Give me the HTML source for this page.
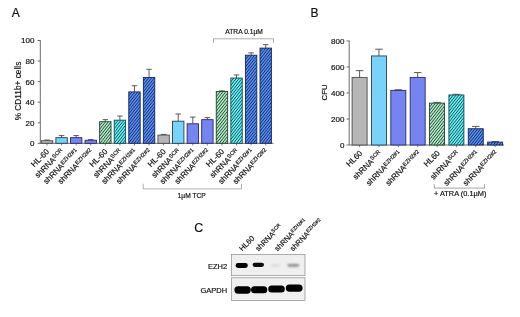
<!DOCTYPE html>
<html lang="en"><head><meta charset="utf-8"><title>Figure</title>
<style>html,body{margin:0;padding:0;background:#fff}svg{display:block}text{font-family:"Liberation Sans", sans-serif;stroke:#111;stroke-width:0.18px}</style>
</head><body>
<svg width="520" height="317" viewBox="0 0 520 317">
<defs>
<filter id="bl" x="-20%" y="-50%" width="140%" height="200%"><feGaussianBlur stdDeviation="0.9"/></filter>
<filter id="bl2" x="-20%" y="-50%" width="140%" height="200%"><feGaussianBlur stdDeviation="0.7"/></filter>
</defs>
<rect width="520" height="317" fill="#fff"/>
<text x="11.8" y="16.8" font-size="12" fill="#111" stroke="none">A</text>
<text x="310.6" y="17" font-size="12" fill="#111" stroke="none">B</text>
<text x="194.2" y="231.8" font-size="12.4" fill="#111" stroke="none">C</text>
<path d="M40.3 40.2V143.3H273.5" stroke="#505050" stroke-width="0.85" fill="none"/>
<path d="M37.699999999999996 143.30H40.3" stroke="#444" stroke-width="0.8"/>
<text x="34.4" y="146.20" font-size="8" text-anchor="end" fill="#111">0</text>
<path d="M37.699999999999996 122.74H40.3" stroke="#444" stroke-width="0.8"/>
<text x="34.4" y="125.64" font-size="8" text-anchor="end" fill="#111">20</text>
<path d="M37.699999999999996 102.18H40.3" stroke="#444" stroke-width="0.8"/>
<text x="34.4" y="105.08" font-size="8" text-anchor="end" fill="#111">40</text>
<path d="M37.699999999999996 81.62H40.3" stroke="#444" stroke-width="0.8"/>
<text x="34.4" y="84.52" font-size="8" text-anchor="end" fill="#111">60</text>
<path d="M37.699999999999996 61.06H40.3" stroke="#444" stroke-width="0.8"/>
<text x="34.4" y="63.96" font-size="8" text-anchor="end" fill="#111">80</text>
<path d="M37.699999999999996 40.50H40.3" stroke="#444" stroke-width="0.8"/>
<text x="34.4" y="43.40" font-size="8" text-anchor="end" fill="#111">100</text>
<text transform="translate(20.8,91.00) rotate(-90)" text-anchor="middle" font-size="8.3" fill="#111">% CD11b+ cells</text>
<path d="M47.00 140.73V140.01M44.25 140.01H49.75" stroke="#4c4848" stroke-width="0.9" fill="none"/>
<rect x="41.30" y="140.73" width="11.40" height="2.57" fill="#b6b6b6" stroke="#4a4a4a" stroke-width="0.9"/>
<path d="M47.00 143.3V145.5" stroke="#444" stroke-width="0.7"/>
<text transform="translate(49.75,152.10) rotate(-45)" text-anchor="end" font-size="8" fill="#111">HL-60</text>
<path d="M61.58 137.65V135.59M58.83 135.59H64.33" stroke="#4c4848" stroke-width="0.9" fill="none"/>
<rect x="55.88" y="137.65" width="11.40" height="5.65" fill="#78d2fa" stroke="#24424f" stroke-width="0.9"/>
<path d="M61.58 143.3V145.5" stroke="#444" stroke-width="0.7"/>
<text transform="translate(64.33,152.10) rotate(-45)" text-anchor="end" font-size="8" fill="#111">shRNA<tspan font-size="5.6" dy="-2.4">SCR</tspan></text>
<path d="M76.16 137.65V135.59M73.41 135.59H78.91" stroke="#4c4848" stroke-width="0.9" fill="none"/>
<rect x="70.46" y="137.65" width="11.40" height="5.65" fill="#7684f2" stroke="#262c66" stroke-width="0.9"/>
<path d="M76.16 143.3V145.5" stroke="#444" stroke-width="0.7"/>
<text transform="translate(78.91,152.10) rotate(-45)" text-anchor="end" font-size="8" fill="#111">shRNA<tspan font-size="5.6" dy="-2.4">EZH2#1</tspan></text>
<path d="M90.74 140.22V139.60M87.99 139.60H93.49" stroke="#4c4848" stroke-width="0.9" fill="none"/>
<rect x="85.04" y="140.22" width="11.40" height="3.08" fill="#7684f2" stroke="#262c66" stroke-width="0.9"/>
<path d="M90.74 143.3V145.5" stroke="#444" stroke-width="0.7"/>
<text transform="translate(93.49,152.10) rotate(-45)" text-anchor="end" font-size="8" fill="#111">shRNA<tspan font-size="5.6" dy="-2.4">EZH2#2</tspan></text>
<path d="M105.32 121.71V119.66M102.57 119.66H108.07" stroke="#4c4848" stroke-width="0.9" fill="none"/>
<clipPath id="c1"><rect x="99.62" y="121.71" width="11.40" height="21.59"/></clipPath>
<rect x="99.62" y="121.71" width="11.40" height="21.59" fill="#aeeac4"/>
<path clip-path="url(#c1)" d="M99.12 115.55L111.52 99.84M99.12 119.15L111.52 103.44M99.12 122.75L111.52 107.04M99.12 126.35L111.52 110.64M99.12 129.95L111.52 114.24M99.12 133.55L111.52 117.84M99.12 137.15L111.52 121.44M99.12 140.75L111.52 125.04M99.12 144.35L111.52 128.64M99.12 147.95L111.52 132.24M99.12 151.55L111.52 135.84M99.12 155.15L111.52 139.44M99.12 158.75L111.52 143.04M99.12 162.35L111.52 146.64" stroke="#1e3c30" stroke-width="0.92" fill="none"/>
<rect x="99.62" y="121.71" width="11.40" height="21.59" fill="none" stroke="#25402f" stroke-width="0.9"/>
<path d="M105.32 143.3V145.5" stroke="#444" stroke-width="0.7"/>
<text transform="translate(108.07,152.10) rotate(-45)" text-anchor="end" font-size="8" fill="#111">HL-60</text>
<path d="M119.90 120.17V116.06M117.15 116.06H122.65" stroke="#4c4848" stroke-width="0.9" fill="none"/>
<clipPath id="c2"><rect x="114.20" y="120.17" width="11.40" height="23.13"/></clipPath>
<rect x="114.20" y="120.17" width="11.40" height="23.13" fill="#66f0f2"/>
<path clip-path="url(#c2)" d="M113.70 115.07L126.10 99.35M113.70 118.67L126.10 102.95M113.70 122.27L126.10 106.55M113.70 125.87L126.10 110.15M113.70 129.47L126.10 113.75M113.70 133.07L126.10 117.35M113.70 136.67L126.10 120.95M113.70 140.27L126.10 124.55M113.70 143.87L126.10 128.15M113.70 147.47L126.10 131.75M113.70 151.07L126.10 135.35M113.70 154.67L126.10 138.95M113.70 158.27L126.10 142.55M113.70 161.87L126.10 146.15M113.70 165.47L126.10 149.75" stroke="#0f4652" stroke-width="0.92" fill="none"/>
<rect x="114.20" y="120.17" width="11.40" height="23.13" fill="none" stroke="#174a55" stroke-width="0.9"/>
<path d="M119.90 143.3V145.5" stroke="#444" stroke-width="0.7"/>
<text transform="translate(122.65,152.10) rotate(-45)" text-anchor="end" font-size="8" fill="#111">shRNA<tspan font-size="5.6" dy="-2.4">SCR</tspan></text>
<path d="M134.48 91.90V85.73M131.73 85.73H137.23" stroke="#4c4848" stroke-width="0.9" fill="none"/>
<clipPath id="c3"><rect x="128.78" y="91.90" width="11.40" height="51.40"/></clipPath>
<rect x="128.78" y="91.90" width="11.40" height="51.40" fill="#5890f0"/>
<path clip-path="url(#c3)" d="M128.28 85.79L140.68 70.07M128.28 89.39L140.68 73.67M128.28 92.99L140.68 77.27M128.28 96.59L140.68 80.87M128.28 100.19L140.68 84.47M128.28 103.79L140.68 88.07M128.28 107.39L140.68 91.67M128.28 110.99L140.68 95.27M128.28 114.59L140.68 98.87M128.28 118.19L140.68 102.47M128.28 121.79L140.68 106.07M128.28 125.39L140.68 109.67M128.28 128.99L140.68 113.27M128.28 132.59L140.68 116.87M128.28 136.19L140.68 120.47M128.28 139.79L140.68 124.07M128.28 143.39L140.68 127.67M128.28 146.99L140.68 131.27M128.28 150.59L140.68 134.87M128.28 154.19L140.68 138.47M128.28 157.79L140.68 142.07M128.28 161.39L140.68 145.67M128.28 164.99L140.68 149.27" stroke="#112260" stroke-width="0.92" fill="none"/>
<rect x="128.78" y="91.90" width="11.40" height="51.40" fill="none" stroke="#16275e" stroke-width="0.9"/>
<path d="M134.48 143.3V145.5" stroke="#444" stroke-width="0.7"/>
<text transform="translate(137.23,152.10) rotate(-45)" text-anchor="end" font-size="8" fill="#111">shRNA<tspan font-size="5.6" dy="-2.4">EZH2#1</tspan></text>
<path d="M149.06 77.51V69.28M146.31 69.28H151.81" stroke="#4c4848" stroke-width="0.9" fill="none"/>
<clipPath id="c4"><rect x="143.36" y="77.51" width="11.40" height="65.79"/></clipPath>
<rect x="143.36" y="77.51" width="11.40" height="65.79" fill="#5890f0"/>
<path clip-path="url(#c4)" d="M142.86 74.51L155.26 58.79M142.86 78.11L155.26 62.39M142.86 81.71L155.26 65.99M142.86 85.31L155.26 69.59M142.86 88.91L155.26 73.19M142.86 92.51L155.26 76.79M142.86 96.11L155.26 80.39M142.86 99.71L155.26 83.99M142.86 103.31L155.26 87.59M142.86 106.91L155.26 91.19M142.86 110.51L155.26 94.79M142.86 114.11L155.26 98.39M142.86 117.71L155.26 101.99M142.86 121.31L155.26 105.59M142.86 124.91L155.26 109.19M142.86 128.51L155.26 112.79M142.86 132.11L155.26 116.39M142.86 135.71L155.26 119.99M142.86 139.31L155.26 123.59M142.86 142.91L155.26 127.19M142.86 146.51L155.26 130.79M142.86 150.11L155.26 134.39M142.86 153.71L155.26 137.99M142.86 157.31L155.26 141.59M142.86 160.91L155.26 145.19M142.86 164.51L155.26 148.79" stroke="#112260" stroke-width="0.92" fill="none"/>
<rect x="143.36" y="77.51" width="11.40" height="65.79" fill="none" stroke="#16275e" stroke-width="0.9"/>
<path d="M149.06 143.3V145.5" stroke="#444" stroke-width="0.7"/>
<text transform="translate(151.81,152.10) rotate(-45)" text-anchor="end" font-size="8" fill="#111">shRNA<tspan font-size="5.6" dy="-2.4">EZH2#2</tspan></text>
<path d="M163.64 135.08V134.36M160.89 134.36H166.39" stroke="#4c4848" stroke-width="0.9" fill="none"/>
<rect x="157.94" y="135.08" width="11.40" height="8.22" fill="#b6b6b6" stroke="#4a4a4a" stroke-width="0.9"/>
<path d="M163.64 143.3V145.5" stroke="#444" stroke-width="0.7"/>
<text transform="translate(166.39,152.10) rotate(-45)" text-anchor="end" font-size="8" fill="#111">HL-60</text>
<path d="M178.22 121.20V114.00M175.47 114.00H180.97" stroke="#4c4848" stroke-width="0.9" fill="none"/>
<rect x="172.52" y="121.20" width="11.40" height="22.10" fill="#78d2fa" stroke="#24424f" stroke-width="0.9"/>
<path d="M178.22 143.3V145.5" stroke="#444" stroke-width="0.7"/>
<text transform="translate(180.97,152.10) rotate(-45)" text-anchor="end" font-size="8" fill="#111">shRNA<tspan font-size="5.6" dy="-2.4">SCR</tspan></text>
<path d="M192.80 123.77V117.09M190.05 117.09H195.55" stroke="#4c4848" stroke-width="0.9" fill="none"/>
<rect x="187.10" y="123.77" width="11.40" height="19.53" fill="#7684f2" stroke="#262c66" stroke-width="0.9"/>
<path d="M192.80 143.3V145.5" stroke="#444" stroke-width="0.7"/>
<text transform="translate(195.55,152.10) rotate(-45)" text-anchor="end" font-size="8" fill="#111">shRNA<tspan font-size="5.6" dy="-2.4">EZH2#1</tspan></text>
<path d="M207.38 119.66V117.60M204.63 117.60H210.13" stroke="#4c4848" stroke-width="0.9" fill="none"/>
<rect x="201.68" y="119.66" width="11.40" height="23.64" fill="#7684f2" stroke="#262c66" stroke-width="0.9"/>
<path d="M207.38 143.3V145.5" stroke="#444" stroke-width="0.7"/>
<text transform="translate(210.13,152.10) rotate(-45)" text-anchor="end" font-size="8" fill="#111">shRNA<tspan font-size="5.6" dy="-2.4">EZH2#2</tspan></text>
<path d="M221.96 91.39V90.87M219.21 90.87H224.71" stroke="#4c4848" stroke-width="0.9" fill="none"/>
<clipPath id="c5"><rect x="216.26" y="91.39" width="11.40" height="51.91"/></clipPath>
<rect x="216.26" y="91.39" width="11.40" height="51.91" fill="#aeeac4"/>
<path clip-path="url(#c5)" d="M215.76 86.50L228.16 70.78M215.76 90.10L228.16 74.38M215.76 93.70L228.16 77.98M215.76 97.30L228.16 81.58M215.76 100.90L228.16 85.18M215.76 104.50L228.16 88.78M215.76 108.10L228.16 92.38M215.76 111.70L228.16 95.98M215.76 115.30L228.16 99.58M215.76 118.90L228.16 103.18M215.76 122.50L228.16 106.78M215.76 126.10L228.16 110.38M215.76 129.70L228.16 113.98M215.76 133.30L228.16 117.58M215.76 136.90L228.16 121.18M215.76 140.50L228.16 124.78M215.76 144.10L228.16 128.38M215.76 147.70L228.16 131.98M215.76 151.30L228.16 135.58M215.76 154.90L228.16 139.18M215.76 158.50L228.16 142.78M215.76 162.10L228.16 146.38" stroke="#1e3c30" stroke-width="0.92" fill="none"/>
<rect x="216.26" y="91.39" width="11.40" height="51.91" fill="none" stroke="#25402f" stroke-width="0.9"/>
<path d="M221.96 143.3V145.5" stroke="#444" stroke-width="0.7"/>
<text transform="translate(224.71,152.10) rotate(-45)" text-anchor="end" font-size="8" fill="#111">HL-60</text>
<path d="M236.54 78.02V74.94M233.79 74.94H239.29" stroke="#4c4848" stroke-width="0.9" fill="none"/>
<clipPath id="c6"><rect x="230.84" y="78.02" width="11.40" height="65.28"/></clipPath>
<rect x="230.84" y="78.02" width="11.40" height="65.28" fill="#66f0f2"/>
<path clip-path="url(#c6)" d="M230.34 71.62L242.74 55.90M230.34 75.22L242.74 59.50M230.34 78.82L242.74 63.10M230.34 82.42L242.74 66.70M230.34 86.02L242.74 70.30M230.34 89.62L242.74 73.90M230.34 93.22L242.74 77.50M230.34 96.82L242.74 81.10M230.34 100.42L242.74 84.70M230.34 104.02L242.74 88.30M230.34 107.62L242.74 91.90M230.34 111.22L242.74 95.50M230.34 114.82L242.74 99.10M230.34 118.42L242.74 102.70M230.34 122.02L242.74 106.30M230.34 125.62L242.74 109.90M230.34 129.22L242.74 113.50M230.34 132.82L242.74 117.10M230.34 136.42L242.74 120.70M230.34 140.02L242.74 124.30M230.34 143.62L242.74 127.90M230.34 147.22L242.74 131.50M230.34 150.82L242.74 135.10M230.34 154.42L242.74 138.70M230.34 158.02L242.74 142.30M230.34 161.62L242.74 145.90M230.34 165.22L242.74 149.50" stroke="#0f4652" stroke-width="0.92" fill="none"/>
<rect x="230.84" y="78.02" width="11.40" height="65.28" fill="none" stroke="#174a55" stroke-width="0.9"/>
<path d="M236.54 143.3V145.5" stroke="#444" stroke-width="0.7"/>
<text transform="translate(239.29,152.10) rotate(-45)" text-anchor="end" font-size="8" fill="#111">shRNA<tspan font-size="5.6" dy="-2.4">SCR</tspan></text>
<path d="M251.12 55.20V52.84M248.37 52.84H253.87" stroke="#4c4848" stroke-width="0.9" fill="none"/>
<clipPath id="c7"><rect x="245.42" y="55.20" width="11.40" height="88.10"/></clipPath>
<rect x="245.42" y="55.20" width="11.40" height="88.10" fill="#5890f0"/>
<path clip-path="url(#c7)" d="M244.92 49.54L257.32 33.82M244.92 53.14L257.32 37.42M244.92 56.74L257.32 41.02M244.92 60.34L257.32 44.62M244.92 63.94L257.32 48.22M244.92 67.54L257.32 51.82M244.92 71.14L257.32 55.42M244.92 74.74L257.32 59.02M244.92 78.34L257.32 62.62M244.92 81.94L257.32 66.22M244.92 85.54L257.32 69.82M244.92 89.14L257.32 73.42M244.92 92.74L257.32 77.02M244.92 96.34L257.32 80.62M244.92 99.94L257.32 84.22M244.92 103.54L257.32 87.82M244.92 107.14L257.32 91.42M244.92 110.74L257.32 95.02M244.92 114.34L257.32 98.62M244.92 117.94L257.32 102.22M244.92 121.54L257.32 105.82M244.92 125.14L257.32 109.42M244.92 128.74L257.32 113.02M244.92 132.34L257.32 116.62M244.92 135.94L257.32 120.22M244.92 139.54L257.32 123.82M244.92 143.14L257.32 127.42M244.92 146.74L257.32 131.02M244.92 150.34L257.32 134.62M244.92 153.94L257.32 138.22M244.92 157.54L257.32 141.82M244.92 161.14L257.32 145.42M244.92 164.74L257.32 149.02" stroke="#112260" stroke-width="0.92" fill="none"/>
<rect x="245.42" y="55.20" width="11.40" height="88.10" fill="none" stroke="#16275e" stroke-width="0.9"/>
<path d="M251.12 143.3V145.5" stroke="#444" stroke-width="0.7"/>
<text transform="translate(253.87,152.10) rotate(-45)" text-anchor="end" font-size="8" fill="#111">shRNA<tspan font-size="5.6" dy="-2.4">EZH2#1</tspan></text>
<path d="M265.70 48.11V44.61M262.95 44.61H268.45" stroke="#4c4848" stroke-width="0.9" fill="none"/>
<clipPath id="c8"><rect x="260.00" y="48.11" width="11.40" height="95.19"/></clipPath>
<rect x="260.00" y="48.11" width="11.40" height="95.19" fill="#5890f0"/>
<path clip-path="url(#c8)" d="M259.50 41.86L271.90 26.14M259.50 45.46L271.90 29.74M259.50 49.06L271.90 33.34M259.50 52.66L271.90 36.94M259.50 56.26L271.90 40.54M259.50 59.86L271.90 44.14M259.50 63.46L271.90 47.74M259.50 67.06L271.90 51.34M259.50 70.66L271.90 54.94M259.50 74.26L271.90 58.54M259.50 77.86L271.90 62.14M259.50 81.46L271.90 65.74M259.50 85.06L271.90 69.34M259.50 88.66L271.90 72.94M259.50 92.26L271.90 76.54M259.50 95.86L271.90 80.14M259.50 99.46L271.90 83.74M259.50 103.06L271.90 87.34M259.50 106.66L271.90 90.94M259.50 110.26L271.90 94.54M259.50 113.86L271.90 98.14M259.50 117.46L271.90 101.74M259.50 121.06L271.90 105.34M259.50 124.66L271.90 108.94M259.50 128.26L271.90 112.54M259.50 131.86L271.90 116.14M259.50 135.46L271.90 119.74M259.50 139.06L271.90 123.34M259.50 142.66L271.90 126.94M259.50 146.26L271.90 130.54M259.50 149.86L271.90 134.14M259.50 153.46L271.90 137.74M259.50 157.06L271.90 141.34M259.50 160.66L271.90 144.94M259.50 164.26L271.90 148.54" stroke="#112260" stroke-width="0.92" fill="none"/>
<rect x="260.00" y="48.11" width="11.40" height="95.19" fill="none" stroke="#16275e" stroke-width="0.9"/>
<path d="M265.70 143.3V145.5" stroke="#444" stroke-width="0.7"/>
<text transform="translate(268.45,152.10) rotate(-45)" text-anchor="end" font-size="8" fill="#111">shRNA<tspan font-size="5.6" dy="-2.4">EZH2#2</tspan></text>
<path d="M213.5 43.1V38.8H273.5V43.1" stroke="#777" stroke-width="0.6" fill="none"/>
<text x="244.1" y="33.85" font-size="6.7" text-anchor="middle" fill="#111">ATRA 0.1µM</text>
<path d="M143.2 183.8V188.9H241.5V183.8" stroke="#777" stroke-width="0.6" fill="none"/>
<text x="191.7" y="197.7" font-size="6.7" text-anchor="middle" fill="#111">1µM TCP</text>
<path d="M349.2 40.7V145H504" stroke="#505050" stroke-width="0.85" fill="none"/>
<path d="M346.59999999999997 145.00H349.2" stroke="#444" stroke-width="0.8"/>
<text x="344.4" y="147.90" font-size="8" text-anchor="end" fill="#111">0</text>
<path d="M346.59999999999997 119.00H349.2" stroke="#444" stroke-width="0.8"/>
<text x="344.4" y="121.90" font-size="8" text-anchor="end" fill="#111">200</text>
<path d="M346.59999999999997 93.00H349.2" stroke="#444" stroke-width="0.8"/>
<text x="344.4" y="95.90" font-size="8" text-anchor="end" fill="#111">400</text>
<path d="M346.59999999999997 67.00H349.2" stroke="#444" stroke-width="0.8"/>
<text x="344.4" y="69.90" font-size="8" text-anchor="end" fill="#111">600</text>
<path d="M346.59999999999997 41.00H349.2" stroke="#444" stroke-width="0.8"/>
<text x="344.4" y="43.90" font-size="8" text-anchor="end" fill="#111">800</text>
<text transform="translate(327.0,92.40) rotate(-90)" text-anchor="middle" font-size="7.8" fill="#111">CFU</text>
<path d="M359.60 77.40V70.64M355.85 70.64H363.35" stroke="#4c4848" stroke-width="0.9" fill="none"/>
<rect x="352.10" y="77.40" width="15.00" height="67.60" fill="#b6b6b6" stroke="#4a4a4a" stroke-width="0.9"/>
<path d="M359.60 145V147.2" stroke="#444" stroke-width="0.7"/>
<text transform="translate(363.00,153.80) rotate(-45)" text-anchor="end" font-size="8" fill="#111">HL60</text>
<path d="M378.96 55.95V49.19M375.21 49.19H382.71" stroke="#4c4848" stroke-width="0.9" fill="none"/>
<rect x="371.46" y="55.95" width="15.00" height="89.05" fill="#78d2fa" stroke="#24424f" stroke-width="0.9"/>
<path d="M378.96 145V147.2" stroke="#444" stroke-width="0.7"/>
<text transform="translate(382.36,153.80) rotate(-45)" text-anchor="end" font-size="8" fill="#111">shRNA<tspan font-size="5.6" dy="-2.4">SCR</tspan></text>
<path d="M398.32 90.40V89.75M394.57 89.75H402.07" stroke="#4c4848" stroke-width="0.9" fill="none"/>
<rect x="390.82" y="90.40" width="15.00" height="54.60" fill="#7684f2" stroke="#262c66" stroke-width="0.9"/>
<path d="M398.32 145V147.2" stroke="#444" stroke-width="0.7"/>
<text transform="translate(401.72,153.80) rotate(-45)" text-anchor="end" font-size="8" fill="#111">shRNA<tspan font-size="5.6" dy="-2.4">EZH2#1</tspan></text>
<path d="M417.68 77.40V72.59M413.93 72.59H421.43" stroke="#4c4848" stroke-width="0.9" fill="none"/>
<rect x="410.18" y="77.40" width="15.00" height="67.60" fill="#7684f2" stroke="#262c66" stroke-width="0.9"/>
<path d="M417.68 145V147.2" stroke="#444" stroke-width="0.7"/>
<text transform="translate(421.08,153.80) rotate(-45)" text-anchor="end" font-size="8" fill="#111">shRNA<tspan font-size="5.6" dy="-2.4">EZH2#2</tspan></text>
<path d="M437.04 103.14V102.36M433.29 102.36H440.79" stroke="#4c4848" stroke-width="0.9" fill="none"/>
<clipPath id="c9"><rect x="429.54" y="103.14" width="15.00" height="41.86"/></clipPath>
<rect x="429.54" y="103.14" width="15.00" height="41.86" fill="#aeeac4"/>
<path clip-path="url(#c9)" d="M429.04 96.95L445.04 76.66M429.04 100.55L445.04 80.26M429.04 104.15L445.04 83.86M429.04 107.75L445.04 87.46M429.04 111.35L445.04 91.06M429.04 114.95L445.04 94.66M429.04 118.55L445.04 98.26M429.04 122.15L445.04 101.86M429.04 125.75L445.04 105.46M429.04 129.35L445.04 109.06M429.04 132.95L445.04 112.66M429.04 136.55L445.04 116.26M429.04 140.15L445.04 119.86M429.04 143.75L445.04 123.46M429.04 147.35L445.04 127.06M429.04 150.95L445.04 130.66M429.04 154.55L445.04 134.26M429.04 158.15L445.04 137.86M429.04 161.75L445.04 141.46M429.04 165.35L445.04 145.06M429.04 168.95L445.04 148.66" stroke="#1e3c30" stroke-width="0.92" fill="none"/>
<rect x="429.54" y="103.14" width="15.00" height="41.86" fill="none" stroke="#25402f" stroke-width="0.9"/>
<path d="M437.04 145V147.2" stroke="#444" stroke-width="0.7"/>
<text transform="translate(440.44,153.80) rotate(-45)" text-anchor="end" font-size="8" fill="#111">HL60</text>
<path d="M456.40 94.95V94.30M452.65 94.30H460.15" stroke="#4c4848" stroke-width="0.9" fill="none"/>
<clipPath id="c10"><rect x="448.90" y="94.95" width="15.00" height="50.05"/></clipPath>
<rect x="448.90" y="94.95" width="15.00" height="50.05" fill="#66f0f2"/>
<path clip-path="url(#c10)" d="M448.40 90.41L464.40 70.12M448.40 94.01L464.40 73.72M448.40 97.61L464.40 77.32M448.40 101.21L464.40 80.92M448.40 104.81L464.40 84.52M448.40 108.41L464.40 88.12M448.40 112.01L464.40 91.72M448.40 115.61L464.40 95.32M448.40 119.21L464.40 98.92M448.40 122.81L464.40 102.52M448.40 126.41L464.40 106.12M448.40 130.01L464.40 109.72M448.40 133.61L464.40 113.32M448.40 137.21L464.40 116.92M448.40 140.81L464.40 120.52M448.40 144.41L464.40 124.12M448.40 148.01L464.40 127.72M448.40 151.61L464.40 131.32M448.40 155.21L464.40 134.92M448.40 158.81L464.40 138.52M448.40 162.41L464.40 142.12M448.40 166.01L464.40 145.72M448.40 169.61L464.40 149.32" stroke="#0f4652" stroke-width="0.92" fill="none"/>
<rect x="448.90" y="94.95" width="15.00" height="50.05" fill="none" stroke="#174a55" stroke-width="0.9"/>
<path d="M456.40 145V147.2" stroke="#444" stroke-width="0.7"/>
<text transform="translate(459.80,153.80) rotate(-45)" text-anchor="end" font-size="8" fill="#111">shRNA<tspan font-size="5.6" dy="-2.4">SCR</tspan></text>
<path d="M475.76 128.75V126.41M472.01 126.41H479.51" stroke="#4c4848" stroke-width="0.9" fill="none"/>
<clipPath id="c11"><rect x="468.26" y="128.75" width="15.00" height="16.25"/></clipPath>
<rect x="468.26" y="128.75" width="15.00" height="16.25" fill="#5890f0"/>
<path clip-path="url(#c11)" d="M467.76 123.46L483.76 103.18M467.76 127.06L483.76 106.78M467.76 130.66L483.76 110.38M467.76 134.26L483.76 113.98M467.76 137.86L483.76 117.58M467.76 141.46L483.76 121.18M467.76 145.06L483.76 124.78M467.76 148.66L483.76 128.38M467.76 152.26L483.76 131.98M467.76 155.86L483.76 135.58M467.76 159.46L483.76 139.18M467.76 163.06L483.76 142.78M467.76 166.66L483.76 146.38M467.76 170.26L483.76 149.98" stroke="#112260" stroke-width="0.92" fill="none"/>
<rect x="468.26" y="128.75" width="15.00" height="16.25" fill="none" stroke="#16275e" stroke-width="0.9"/>
<path d="M475.76 145V147.2" stroke="#444" stroke-width="0.7"/>
<text transform="translate(479.16,153.80) rotate(-45)" text-anchor="end" font-size="8" fill="#111">shRNA<tspan font-size="5.6" dy="-2.4">EZH2#1</tspan></text>
<path d="M495.12 142.14V141.49M491.37 141.49H498.87" stroke="#4c4848" stroke-width="0.9" fill="none"/>
<clipPath id="c12"><rect x="487.62" y="142.14" width="15.00" height="2.86"/></clipPath>
<rect x="487.62" y="142.14" width="15.00" height="2.86" fill="#5890f0"/>
<path clip-path="url(#c12)" d="M487.12 138.52L503.12 118.24M487.12 142.12L503.12 121.84M487.12 145.72L503.12 125.44M487.12 149.32L503.12 129.04M487.12 152.92L503.12 132.64M487.12 156.52L503.12 136.24M487.12 160.12L503.12 139.84M487.12 163.72L503.12 143.44M487.12 167.32L503.12 147.04M487.12 170.92L503.12 150.64" stroke="#112260" stroke-width="0.92" fill="none"/>
<rect x="487.62" y="142.14" width="15.00" height="2.86" fill="none" stroke="#16275e" stroke-width="0.9"/>
<path d="M495.12 145V147.2" stroke="#444" stroke-width="0.7"/>
<text transform="translate(498.52,153.80) rotate(-45)" text-anchor="end" font-size="8" fill="#111">shRNA<tspan font-size="5.6" dy="-2.4">EZH2#2</tspan></text>
<path d="M434.3 184.2V188.1H484.5V184.2" stroke="#666" stroke-width="0.6" fill="none"/>
<text x="460.2" y="195.6" font-size="7.4" text-anchor="middle" fill="#111">+ ATRA (0.1µM)</text>
<rect x="231.6" y="254.6" width="73.4" height="21.1" fill="#efefef" stroke="#8a8a8a" stroke-width="0.7"/>
<rect x="231.6" y="277.8" width="73.4" height="22.6" fill="#efefef" stroke="#8a8a8a" stroke-width="0.7"/>
<text x="227.2" y="269.2" font-size="7.5" text-anchor="end" fill="#111">EZH2</text>
<text x="227.2" y="293.4" font-size="7.5" text-anchor="end" fill="#111">GAPDH</text>
<rect x="235.60" y="263.10" width="12.20" height="4.80" rx="2.40" fill="#060606" opacity="1" filter="url(#bl2)"/>
<rect x="252.60" y="262.65" width="11.40" height="4.30" rx="2.15" fill="#0c0c0c" opacity="1" filter="url(#bl2)"/>
<rect x="271.00" y="264.40" width="9.00" height="2.20" rx="1.10" fill="#999" opacity="0.3" filter="url(#bl)"/>
<rect x="287.60" y="263.90" width="11.60" height="2.80" rx="1.40" fill="#555" opacity="0.65" filter="url(#bl)"/>
<rect x="234.40" y="286.30" width="16.40" height="7.40" rx="3.70" fill="#030303" opacity="1" filter="url(#bl2)"/>
<rect x="251.00" y="286.30" width="16.30" height="7.00" rx="3.50" fill="#030303" opacity="1" filter="url(#bl2)"/>
<rect x="268.20" y="285.50" width="16.60" height="7.00" rx="3.50" fill="#030303" opacity="1" filter="url(#bl2)"/>
<rect x="285.80" y="284.50" width="16.80" height="7.20" rx="3.60" fill="#030303" opacity="1" filter="url(#bl2)"/>
<text transform="translate(242.30,251.60) rotate(-45)" text-anchor="start" font-size="7.5" fill="#111">HL60</text>
<text transform="translate(258.40,251.60) rotate(-45)" text-anchor="start" font-size="7.5" fill="#111">shRNA<tspan font-size="5.0" dy="-2.6">SCR</tspan></text>
<text transform="translate(277.60,251.60) rotate(-45)" text-anchor="start" font-size="7.5" fill="#111">shRNA<tspan font-size="5.0" dy="-2.6">EZH2#1</tspan></text>
<text transform="translate(293.00,251.60) rotate(-45)" text-anchor="start" font-size="7.5" fill="#111">shRNA<tspan font-size="5.0" dy="-2.6">EZH2#2</tspan></text>
</svg>
</body></html>
